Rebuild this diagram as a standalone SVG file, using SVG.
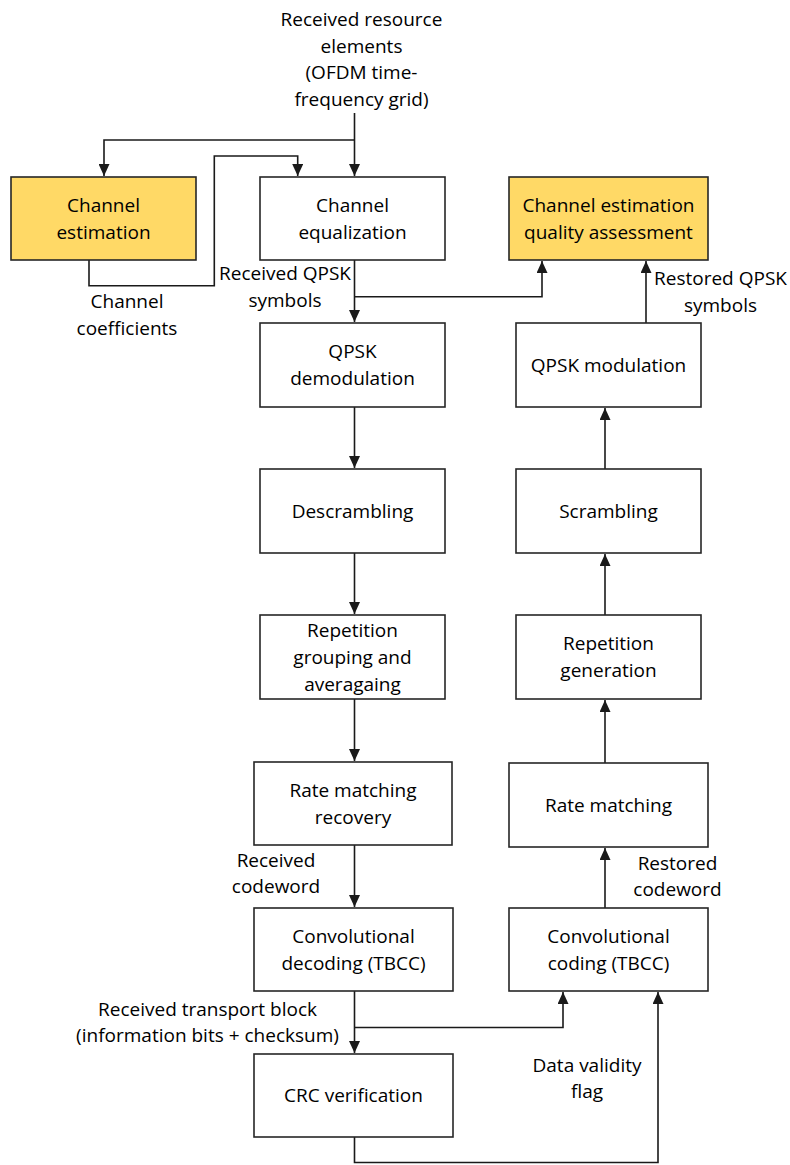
<svg xmlns="http://www.w3.org/2000/svg" width="790" height="1165" viewBox="0 0 790 1165">
<style>
  .box { fill: #ffffff; stroke: #262626; stroke-width: 1.6; }
  .hl { fill: #FFD966; }
  .t { font-family: "Open Sans", "Noto Sans", sans-serif; font-size: 19px; fill: #000000; text-anchor: middle; }
  .c { fill: none; stroke: #1a1a1a; stroke-width: 1.6; }
</style>
<defs>
  <marker id="arr" markerUnits="userSpaceOnUse" markerWidth="12" markerHeight="11" viewBox="0 0 12 11" refX="12" refY="5.5" orient="auto">
    <path d="M0,0 L12,5.5 L0,11 Z" fill="#1a1a1a"/>
  </marker>
</defs>
<rect width="790" height="1165" fill="#ffffff"/>

<g id="connectors">
  <path class="c" d="M354.5,113 V176" marker-end="url(#arr)"/>
  <path class="c" d="M354.5,140 H104 V176" marker-end="url(#arr)"/>
  <path class="c" d="M89,260 V285.7 H214.3 V156 H297.7 V176" marker-end="url(#arr)"/>
  <path class="c" d="M354.5,260 V322" marker-end="url(#arr)"/>
  <path class="c" d="M354.5,296.7 H542 V261" marker-end="url(#arr)"/>
  <path class="c" d="M646,323 V261" marker-end="url(#arr)"/>
  <path class="c" d="M354.5,407 V468" marker-end="url(#arr)"/>
  <path class="c" d="M605,469 V408" marker-end="url(#arr)"/>
  <path class="c" d="M354.5,553 V614" marker-end="url(#arr)"/>
  <path class="c" d="M605,615 V554" marker-end="url(#arr)"/>
  <path class="c" d="M354.5,699 V761" marker-end="url(#arr)"/>
  <path class="c" d="M605,763 V700" marker-end="url(#arr)"/>
  <path class="c" d="M354.5,845 V907" marker-end="url(#arr)"/>
  <path class="c" d="M605,908 V848" marker-end="url(#arr)"/>
  <path class="c" d="M354.5,991 V1053" marker-end="url(#arr)"/>
  <path class="c" d="M354.5,1027.5 H563 V992" marker-end="url(#arr)"/>
  <path class="c" d="M354.5,1137 V1162.5 H658 V992" marker-end="url(#arr)"/>
</g>

<g id="label-input">
  <text class="t" x="361.5" y="26">Received resource</text>
  <text class="t" x="361.5" y="52.5">elements</text>
  <text class="t" x="361.5" y="79">(OFDM time-</text>
  <text class="t" x="361.5" y="105.5">frequency grid)</text>
</g>
<g id="label-coefficients">
  <text class="t" x="127" y="308">Channel</text>
  <text class="t" x="127" y="335">coefficients</text>
</g>
<g id="label-rx-qpsk">
  <text class="t" x="285" y="280">Received QPSK</text>
  <text class="t" x="285" y="307">symbols</text>
</g>
<g id="label-restored-qpsk">
  <text class="t" x="720.5" y="285">Restored QPSK</text>
  <text class="t" x="720.5" y="312">symbols</text>
</g>
<g id="label-rx-codeword">
  <text class="t" x="276" y="866.5">Received</text>
  <text class="t" x="276" y="893">codeword</text>
</g>
<g id="label-restored-codeword">
  <text class="t" x="677.5" y="869.5">Restored</text>
  <text class="t" x="677.5" y="896">codeword</text>
</g>
<g id="label-transport-block">
  <text class="t" x="207.5" y="1015.5">Received transport block</text>
  <text class="t" x="207.5" y="1041.5">(information bits + checksum)</text>
</g>
<g id="label-validity">
  <text class="t" x="587" y="1072">Data validity</text>
  <text class="t" x="587" y="1098">flag</text>
</g>

<g id="channel-estimation">
  <rect class="box hl" x="11" y="177" width="185" height="83"/>
  <text class="t" x="103.5" y="211.5">Channel</text>
  <text class="t" x="103.5" y="238.5">estimation</text>
</g>
<g id="channel-equalization">
  <rect class="box" x="260" y="177" width="185" height="83"/>
  <text class="t" x="352.5" y="211.5">Channel</text>
  <text class="t" x="352.5" y="238.5">equalization</text>
</g>
<g id="quality-assessment">
  <rect class="box hl" x="509" y="177" width="199" height="83"/>
  <text class="t" x="608.5" y="211.5">Channel estimation</text>
  <text class="t" x="608.5" y="238.5">quality assessment</text>
</g>
<g id="qpsk-demodulation">
  <rect class="box" x="260" y="323" width="185" height="84"/>
  <text class="t" x="352.5" y="358">QPSK</text>
  <text class="t" x="352.5" y="385">demodulation</text>
</g>
<g id="qpsk-modulation">
  <rect class="box" x="516" y="323" width="185" height="84"/>
  <text class="t" x="608.5" y="371.5">QPSK modulation</text>
</g>
<g id="descrambling">
  <rect class="box" x="260" y="469" width="185" height="84"/>
  <text class="t" x="352.5" y="517.5">Descrambling</text>
</g>
<g id="scrambling">
  <rect class="box" x="516" y="469" width="185" height="84"/>
  <text class="t" x="608.5" y="517.5">Scrambling</text>
</g>
<g id="repetition-grouping">
  <rect class="box" x="260" y="615" width="185" height="84"/>
  <text class="t" x="352.5" y="636.5">Repetition</text>
  <text class="t" x="352.5" y="663.5">grouping and</text>
  <text class="t" x="352.5" y="690.5">averagaing</text>
</g>
<g id="repetition-generation">
  <rect class="box" x="516" y="615" width="185" height="84"/>
  <text class="t" x="608.5" y="650">Repetition</text>
  <text class="t" x="608.5" y="677">generation</text>
</g>
<g id="rate-matching-recovery">
  <rect class="box" x="254" y="762" width="198" height="83"/>
  <text class="t" x="353" y="796.5">Rate matching</text>
  <text class="t" x="353" y="823.5">recovery</text>
</g>
<g id="rate-matching">
  <rect class="box" x="509" y="763" width="199" height="84"/>
  <text class="t" x="608.5" y="811.5">Rate matching</text>
</g>
<g id="convolutional-decoding">
  <rect class="box" x="254" y="908" width="199" height="83"/>
  <text class="t" x="353.5" y="942.5">Convolutional</text>
  <text class="t" x="353.5" y="969.5">decoding (TBCC)</text>
</g>
<g id="convolutional-coding">
  <rect class="box" x="509" y="908" width="199" height="83"/>
  <text class="t" x="608.5" y="942.5">Convolutional</text>
  <text class="t" x="608.5" y="969.5">coding (TBCC)</text>
</g>
<g id="crc-verification">
  <rect class="box" x="254" y="1054" width="199" height="83"/>
  <text class="t" x="353.5" y="1102">CRC verification</text>
</g>
</svg>
